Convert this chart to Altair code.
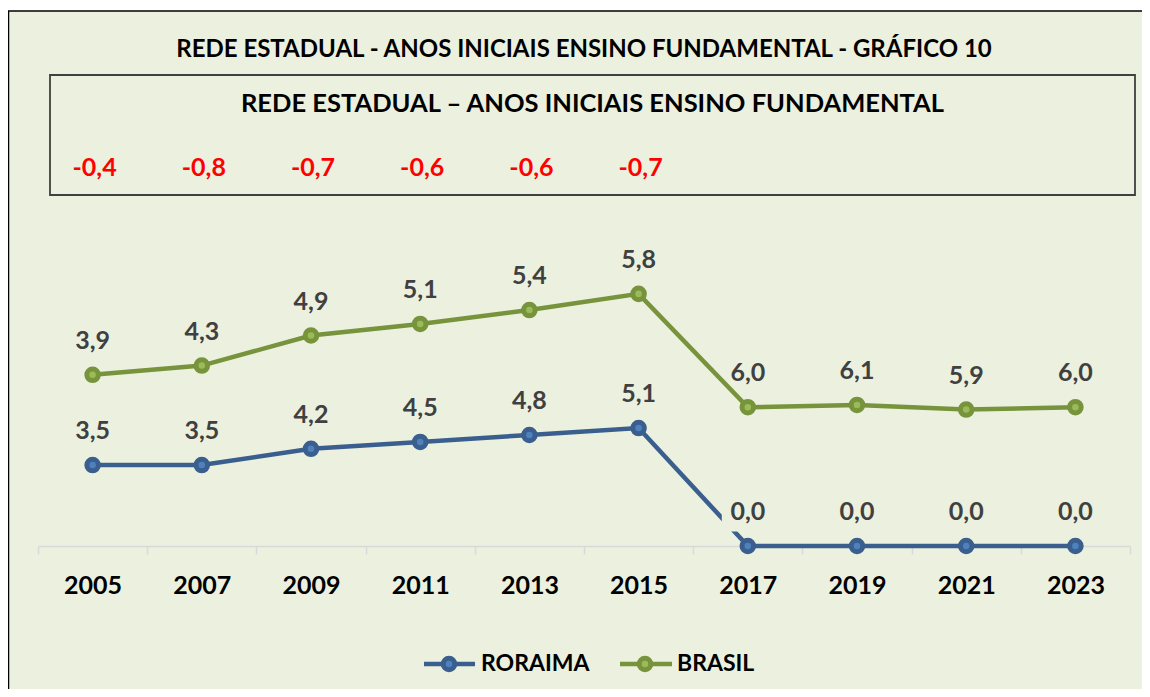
import altair as alt
import pandas as pd

years = ["2005", "2007", "2009", "2011", "2013", "2015", "2017", "2019", "2021", "2023"]
roraima = [3.5, 3.5, 4.2, 4.5, 4.8, 5.1, 0.0, 0.0, 0.0, 0.0]
brasil = [3.9, 4.3, 4.9, 5.1, 5.4, 5.8, 6.0, 6.1, 5.9, 6.0]
diff_years = ["2005", "2007", "2009", "2011", "2013", "2015"]
diffs = [-0.4, -0.8, -0.7, -0.6, -0.6, -0.7]
series_names = ["RORAIMA", "BRASIL"]

main_title = "REDE ESTADUAL - ANOS INICIAIS ENSINO FUNDAMENTAL - GRÁFICO 10"
box_title = "REDE ESTADUAL \u2013 ANOS INICIAIS ENSINO FUNDAMENTAL"

BG = "#EBF1DE"
LINE_COLORS = ["#3A5F8E", "#77933C"]
FILL_COLORS = ["#4F81BD", "#9BBB59"]
FONT = "Lato"


def fmt(v):
    return f"{v:.1f}".replace(".", ",")


rows = []
for i, y in enumerate(years):
    # stacked line chart: Brasil is drawn on top of Roraima
    rows.append({"year": y, "series": "RORAIMA", "value": roraima[i],
                 "plot": roraima[i], "label": fmt(roraima[i])})
    rows.append({"year": y, "series": "BRASIL", "value": brasil[i],
                 "plot": roraima[i] + brasil[i], "label": fmt(brasil[i])})
df = pd.DataFrame(rows)

diff_df = pd.DataFrame({"year": diff_years, "label": [fmt(d) for d in diffs]})
one = pd.DataFrame({"k": [0]})

W, H = 1092, 535
RIGHT_PAD = 12

x_enc = alt.X(
    "year:O",
    scale=alt.Scale(type="band", domain=years, paddingInner=0, paddingOuter=0),
    bandPosition=0.5,
    axis=alt.Axis(
        title=None, labelAngle=0, domainColor="#D9D9D9", domainWidth=1.5,
        tickColor="#D9D9D9", tickWidth=1.5, tickSize=8, tickBand="extent",
        labelFont=FONT, labelFontSize=25, labelFontWeight="bold",
        labelColor="black", labelPadding=19, grid=False,
    ),
)
y_enc = alt.Y("plot:Q", scale=alt.Scale(domain=[0, 23.13], nice=False, zero=True), axis=None)
col_line = alt.Color("series:N", scale=alt.Scale(domain=series_names, range=LINE_COLORS), legend=None)

top_strip = alt.Chart(one).mark_rect(fill="white", strokeWidth=0).encode(
    x=alt.value(-30), x2=alt.value(W + RIGHT_PAD), y=alt.value(-3), y2=alt.value(0)
)
border_left = alt.Chart(one).mark_rule(color="black", strokeWidth=1.5).encode(
    x=alt.value(-29.5), y=alt.value(0), y2=alt.value(678)
)
border_top = alt.Chart(one).mark_rule(color="black", strokeWidth=1.5).encode(
    x=alt.value(-30), x2=alt.value(W + RIGHT_PAD), y=alt.value(0)
)
box = alt.Chart(one).mark_rect(fill=BG, stroke="#404040", strokeWidth=1.8).encode(
    x=alt.value(12), x2=alt.value(1097), y=alt.value(64), y2=alt.value(184)
)
title_t = alt.Chart(one).mark_text(text=main_title, font=FONT, fontSize=24, fontWeight="bold",
                                   color="black", align="center", baseline="middle").encode(
    x=alt.value(546), y=alt.value(39)
)
box_t = alt.Chart(one).mark_text(text=box_title, font=FONT, fontSize=25.5, fontWeight="bold",
                                 color="black", align="center", baseline="middle").encode(
    x=alt.value(554.5), y=alt.value(93)
)
diff_t = alt.Chart(diff_df).mark_text(font=FONT, fontSize=25, fontWeight="bold", color="#FF0000",
                                      baseline="middle", dx=2).encode(
    x=x_enc, y=alt.value(157), text="label:N"
)

lines = alt.Chart(df).mark_line(strokeWidth=4.5).encode(x=x_enc, y=y_enc, color=col_line)

label_bg = alt.Chart(df).transform_filter(alt.datum.series == "RORAIMA").mark_point(
    shape="M-1,-0.75L1,-0.75L1,0.75L-1,0.75Z", size=2704, filled=True, fill=BG,
    strokeWidth=0, opacity=1, yOffset=-34
).encode(x=x_enc, y=y_enc)

points = alt.Chart(df).mark_point(filled=True, size=133, strokeWidth=5, shape="circle", opacity=1).encode(
    x=x_enc, y=y_enc,
    fill=alt.Fill("series:N", scale=alt.Scale(domain=series_names, range=FILL_COLORS), legend=None),
    stroke=alt.Stroke("series:N", scale=alt.Scale(domain=series_names, range=LINE_COLORS), legend=None),
)

labels = alt.Chart(df).mark_text(dy=-34, font=FONT, fontSize=25, fontWeight="bold",
                                 color="#404040", baseline="middle").encode(
    x=x_enc, y=y_enc, text="label:N"
)

# manual legend
LY = 653
leg = []
for name, lc, fc, x0, x1, cx, tx in [
    ("RORAIMA", LINE_COLORS[0], FILL_COLORS[0], 386, 437, 411, 443),
    ("BRASIL", LINE_COLORS[1], FILL_COLORS[1], 582, 634, 607, 639),
]:
    leg.append(alt.Chart(one).mark_rule(color=lc, strokeWidth=4.5).encode(
        x=alt.value(x0), x2=alt.value(x1), y=alt.value(LY)))
    leg.append(alt.Chart(one).mark_point(filled=True, size=133, strokeWidth=5, shape="circle",
                                         fill=fc, stroke=lc, opacity=1).encode(
        x=alt.value(cx), y=alt.value(LY)))
    leg.append(alt.Chart(one).mark_text(text=name, font=FONT, fontSize=23, fontWeight="bold",
                                        color="black", align="left", baseline="middle").encode(
        x=alt.value(tx), y=alt.value(LY)))

chart = alt.layer(
    top_strip, border_left, border_top, box, title_t, box_t, diff_t, lines, label_bg, points, labels, *leg
).properties(
    width=W, height=H,
    autosize=alt.AutoSizeParams(type="none"),
    padding={"left": 30, "top": 3, "right": RIGHT_PAD, "bottom": 143},
    background=BG,
).configure_view(stroke=None)

chart.save("out.html", embed_options={"renderer": "svg", "actions": False})
